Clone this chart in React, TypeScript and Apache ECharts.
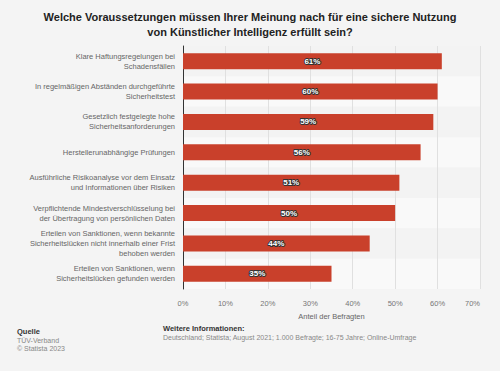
import React, { useEffect, useRef } from "react";
import * as echarts from "echarts";

const categories = [
  "Klare Haftungsregelungen bei\nSchadensfällen",
  "In regelmäßigen Abständen durchgeführte\nSicherheitstest",
  "Gesetzlich festgelegte hohe\nSicherheitsanforderungen",
  "Herstellerunabhängige Prüfungen",
  "Ausführliche Risikoanalyse vor dem Einsatz\nund Informationen über Risiken",
  "Verpflichtende Mindestverschlüsselung bei\nder Übertragung von persönlichen Daten",
  "Erteilen von Sanktionen, wenn bekannte\nSicherheitslücken nicht innerhalb einer Frist\nbehoben werden",
  "Erteilen von Sanktionen, wenn\nSicherheitslücken gefunden werden",
];
const values = [61, 60, 59, 56, 51, 50, 44, 35];
const titleText =
  "Welche Voraussetzungen müssen Ihrer Meinung nach für eine sichere Nutzung\nvon Künstlicher Intelligenz erfüllt sein?";
const axisName = "Anteil der Befragten";

export default function App() {
  const ref = useRef<HTMLDivElement>(null);
  useEffect(() => {
    if (!ref.current) return;
    const chart = echarts.init(ref.current, undefined, { renderer: "svg" });
    const font = "Arial, 'Liberation Sans', sans-serif";
    chart.setOption({
      animation: false,
      backgroundColor: "#f4f4f4",
      textStyle: { fontFamily: font },
      title: {
        text: titleText,
        left: "center",
        top: 4,
        textStyle: {
          fontSize: 11,
          fontWeight: "bold",
          color: "#222",
          lineHeight: 15,
          fontFamily: font,
        },
      },
      grid: { left: 183, right: 20, top: 46, bottom: 82 },
      xAxis: {
        type: "value",
        min: 0,
        max: 70,
        interval: 10,
        name: axisName,
        nameLocation: "middle",
        nameGap: 23,
        nameTextStyle: { fontSize: 7.5, color: "#666" },
        axisLine: { show: false },
        axisTick: { show: false },
        axisLabel: {
          formatter: "{value}%",
          fontSize: 7.5,
          color: "#777",
          margin: 10,
          alignMaxLabel: "right",
        },
        splitLine: { show: true, lineStyle: { color: "#e0e0e0", width: 1 } },
      },
      yAxis: {
        type: "category",
        data: categories,
        inverse: true,
        axisLine: { show: true, lineStyle: { color: "#333", width: 1 } },
        axisTick: { show: false },
        axisLabel: {
          fontSize: 7.5,
          color: "#666",
          lineHeight: 10,
          margin: 8,
          align: "right",
        },
        splitArea: {
          show: true,
          areaStyle: { color: ["#f3f3f3", "#f9f9f9"] },
        },
      },
      series: [
        {
          type: "bar",
          data: values,
          barWidth: 16,
          itemStyle: { color: "#c9402b" },
          label: {
            show: true,
            position: "inside",
            formatter: "{c}%",
            fontSize: 8,
            fontWeight: "bold",
            color: "#fff",
            textBorderColor: "#333",
            textBorderWidth: 2,
          },
        },
      ],
      graphic: [
        {
          type: "text",
          left: 17,
          top: 327,
          style: { text: "Quelle", fontSize: 7.5, fontWeight: "bold", fill: "#333", fontFamily: font },
        },
        {
          type: "text",
          left: 17,
          top: 337,
          style: { text: "TÜV-Verband", fontSize: 7, fill: "#888", fontFamily: font },
        },
        {
          type: "text",
          left: 17,
          top: 345,
          style: { text: "© Statista 2023", fontSize: 7, fill: "#888", fontFamily: font },
        },
        {
          type: "text",
          left: 163,
          top: 324,
          style: { text: "Weitere Informationen:", fontSize: 7.5, fontWeight: "bold", fill: "#333", fontFamily: font },
        },
        {
          type: "text",
          left: 163,
          top: 334,
          style: {
            text: "Deutschland; Statista; August 2021; 1.000 Befragte; 16-75 Jahre; Online-Umfrage",
            fontSize: 7,
            fill: "#888",
            fontFamily: font,
          },
        },
      ],
    });
    return () => chart.dispose();
  }, []);
  return <div ref={ref} style={{ width: 500, height: 371, position: "absolute", left: 0, top: 0 }} />;
}
